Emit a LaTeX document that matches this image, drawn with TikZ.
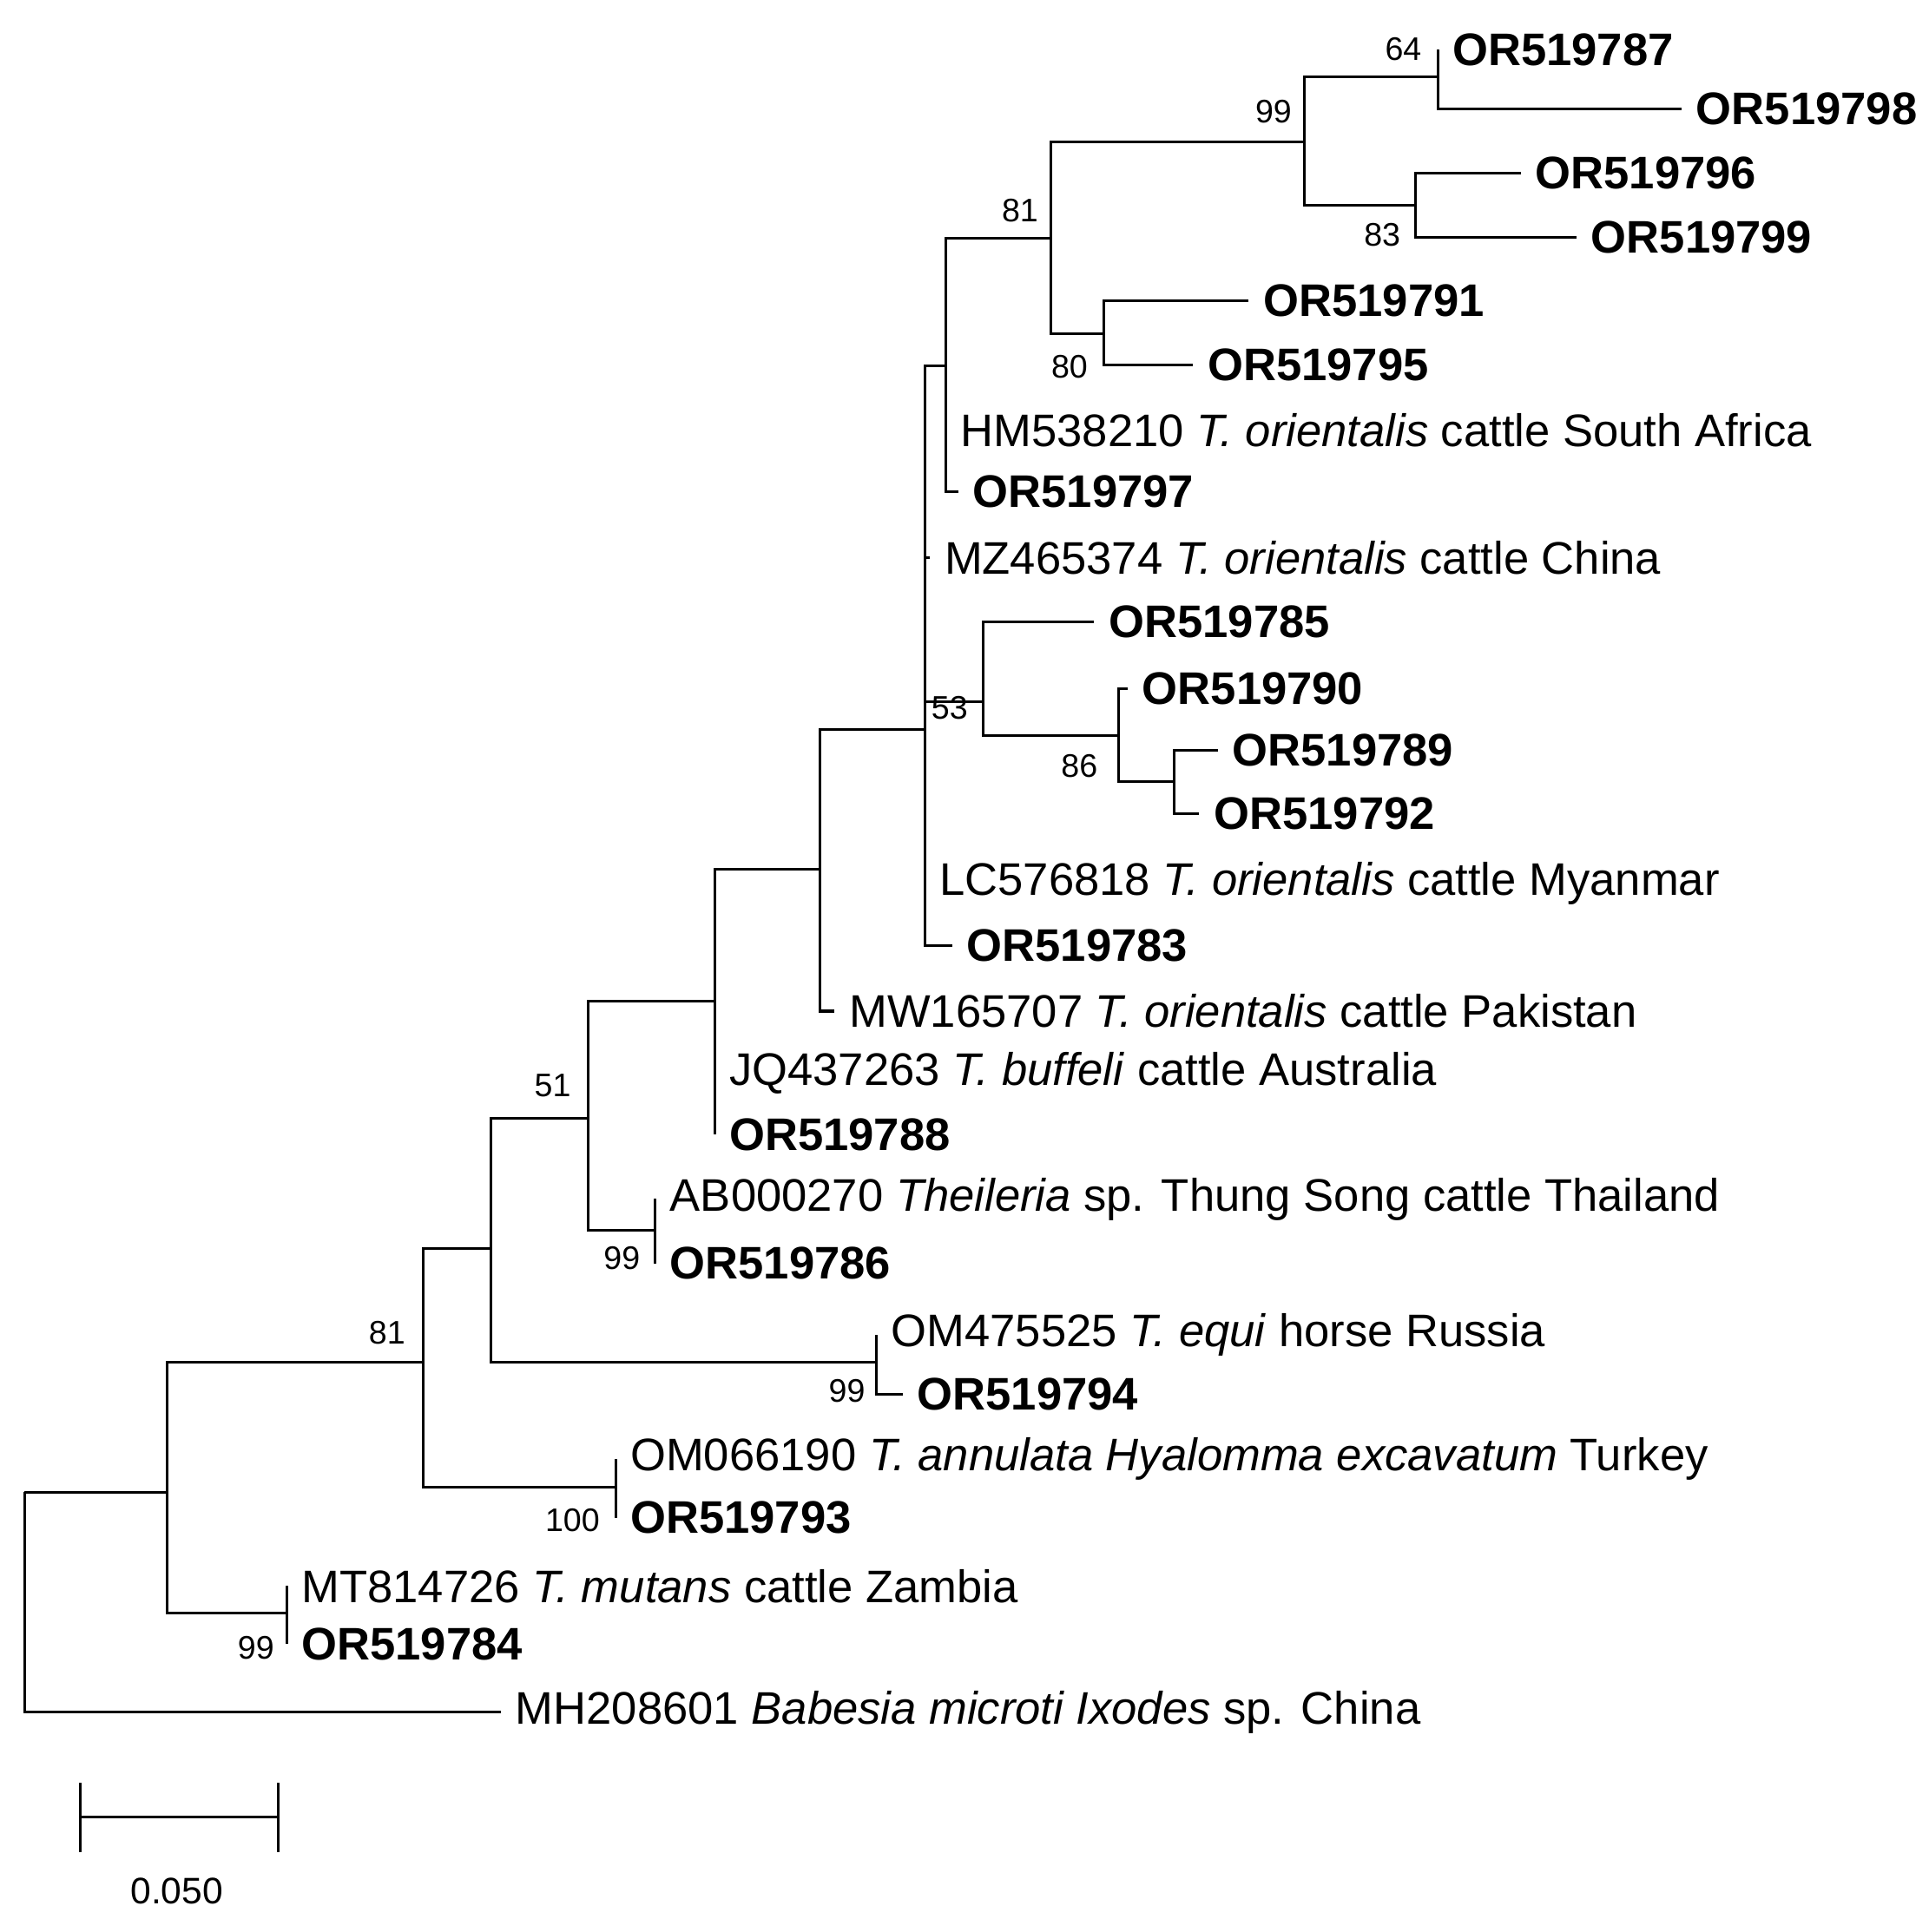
\documentclass[tikz,border=0pt]{standalone}
\usepackage{fontspec}
\setmainfont{Liberation Sans}
\begin{document}
\begin{tikzpicture}[x=0.01cm,y=-0.01cm,
  br/.style={line width=0.6pt},
  lf/.style={anchor=west,inner sep=3.2pt,font=\fontsize{10.5}{12}\selectfont},
  ob/.style={lf,font=\fontsize{10.5}{12}\selectfont\bfseries},
  bs/.style={font=\fontsize{7.5}{9}\selectfont,inner sep=0pt}]
\useasboundingbox (0,0) rectangle (1560,1563);
% internal nodes
\coordinate (r) at (20,1207);
\coordinate (A) at (135,1207);
\coordinate (mut) at (232,1305);
\coordinate (B) at (342,1102);
\coordinate (ann) at (498,1203);
\coordinate (C) at (397,1010);
\coordinate (equ) at (709,1102);
\coordinate (D) at (476,905);
\coordinate (thu) at (530,995);
\coordinate (E) at (578,810);
\coordinate (F) at (663,703);
\coordinate (G) at (748,590);
\coordinate (I) at (795,568);
\coordinate (J) at (905,595);
\coordinate (K) at (950,632);
\coordinate (H) at (765,296);
\coordinate (L) at (850,193);
\coordinate (N) at (893,270);
\coordinate (M) at (1055,115);
\coordinate (O) at (1163,62);
\coordinate (P) at (1145,166);
% leaves
\node[lf] (bab) at (405,1385) {MH208601 \textit{Babesia microti Ixodes} sp. China};
\node[lf] (tmu) at (232,1283) {MT814726 \textit{T. mutans} cattle Zambia};
\node[ob] (t84) at (232,1330) {OR519784};
\node[lf] (tan) at (498,1180) {OM066190 \textit{T. annulata Hyalomma excavatum} Turkey};
\node[ob] (t93) at (498,1228) {OR519793};
\node[lf] (teq) at (709,1080) {OM475525 \textit{T. equi} horse Russia};
\node[ob] (t94) at (730,1128) {OR519794};
\node[lf] (tth) at (530,970) {AB000270 \textit{Theileria} sp. Thung Song cattle Thailand};
\node[ob] (t86) at (530,1022) {OR519786};
\node[lf] (tjq) at (578,868) {JQ437263 \textit{T. buffeli} cattle Australia};
\node[ob] (t88) at (578,918) {OR519788};
\node[lf] (tmw) at (675,818) {MW165707 \textit{T. orientalis} cattle Pakistan};
\node[lf] (tmz) at (752,451) {MZ465374 \textit{T. orientalis} cattle China};
\node[lf] (tlc) at (748,715) {LC576818 \textit{T. orientalis} cattle Myanmar};
\node[ob] (t83) at (770,765) {OR519783};
\node[ob] (t85) at (885,503) {OR519785};
\node[ob] (t90) at (912,557) {OR519790};
\node[ob] (t89) at (985,607) {OR519789};
\node[ob] (t92) at (970,658) {OR519792};
\node[lf] (thm) at (765,348) {HM538210 \textit{T. orientalis} cattle South Africa};
\node[ob] (t97) at (775,398) {OR519797};
\node[ob] (t91) at (1010,243) {OR519791};
\node[ob] (t95) at (965,295) {OR519795};
\node[ob] (t87) at (1163,40) {OR519787};
\node[ob] (t98) at (1360,88) {OR519798};
\node[ob] (t96) at (1230,140) {OR519796};
\node[ob] (t99) at (1275,192) {OR519799};
% branches
\foreach \p/\c in {r/A, r/bab.west, A/B, A/mut, mut/tmu.west, mut/t84.west,
  B/C, B/ann, ann/tan.west, ann/t93.west, C/D, C/equ, equ/teq.west, equ/t94.west,
  D/E, D/thu, thu/tth.west, thu/t86.west, E/F, E/tjq.west, E/t88.west,
  F/G, F/tmw.west, G/H, G/tmz.west, G/I, G/tlc.west, G/t83.west,
  I/t85.west, I/J, J/t90.west, J/K, K/t89.west, K/t92.west,
  H/L, H/thm.west, H/t97.west, L/M, L/N, N/t91.west, N/t95.west,
  M/O, M/P, O/t87.west, O/t98.west, P/t96.west, P/t99.west}
  \draw[br] (\p) |- (\c);
% bootstrap values
\node[bs] at (207,1333) {99};
\node[bs] at (313,1078) {81};
\node[bs] at (463,1230) {100};
\node[bs] at (447,878) {51};
\node[bs] at (685,1125) {99};
\node[bs] at (503,1018) {99};
\node[bs] at (768,573) {53};
\node[bs] at (873,620) {86};
\node[bs] at (825,170) {81};
\node[bs] at (865,297) {80};
\node[bs] at (1030,90) {99};
\node[bs] at (1135,40) {64};
\node[bs] at (1118,190) {83};
% scale bar
\coordinate (s1) at (65,1470);
\coordinate (s2) at (225,1470);
\draw[br] (s1) -- (s2);
\draw[br] ([yshift=-8]s1) -- ([yshift=8]s1);
\draw[br] ([yshift=-8]s2) -- ([yshift=8]s2);
\node[bs,font=\fontsize{8.5}{10}\selectfont] (sl) at (143,1530) {0.050};
\end{tikzpicture}
\end{document}
